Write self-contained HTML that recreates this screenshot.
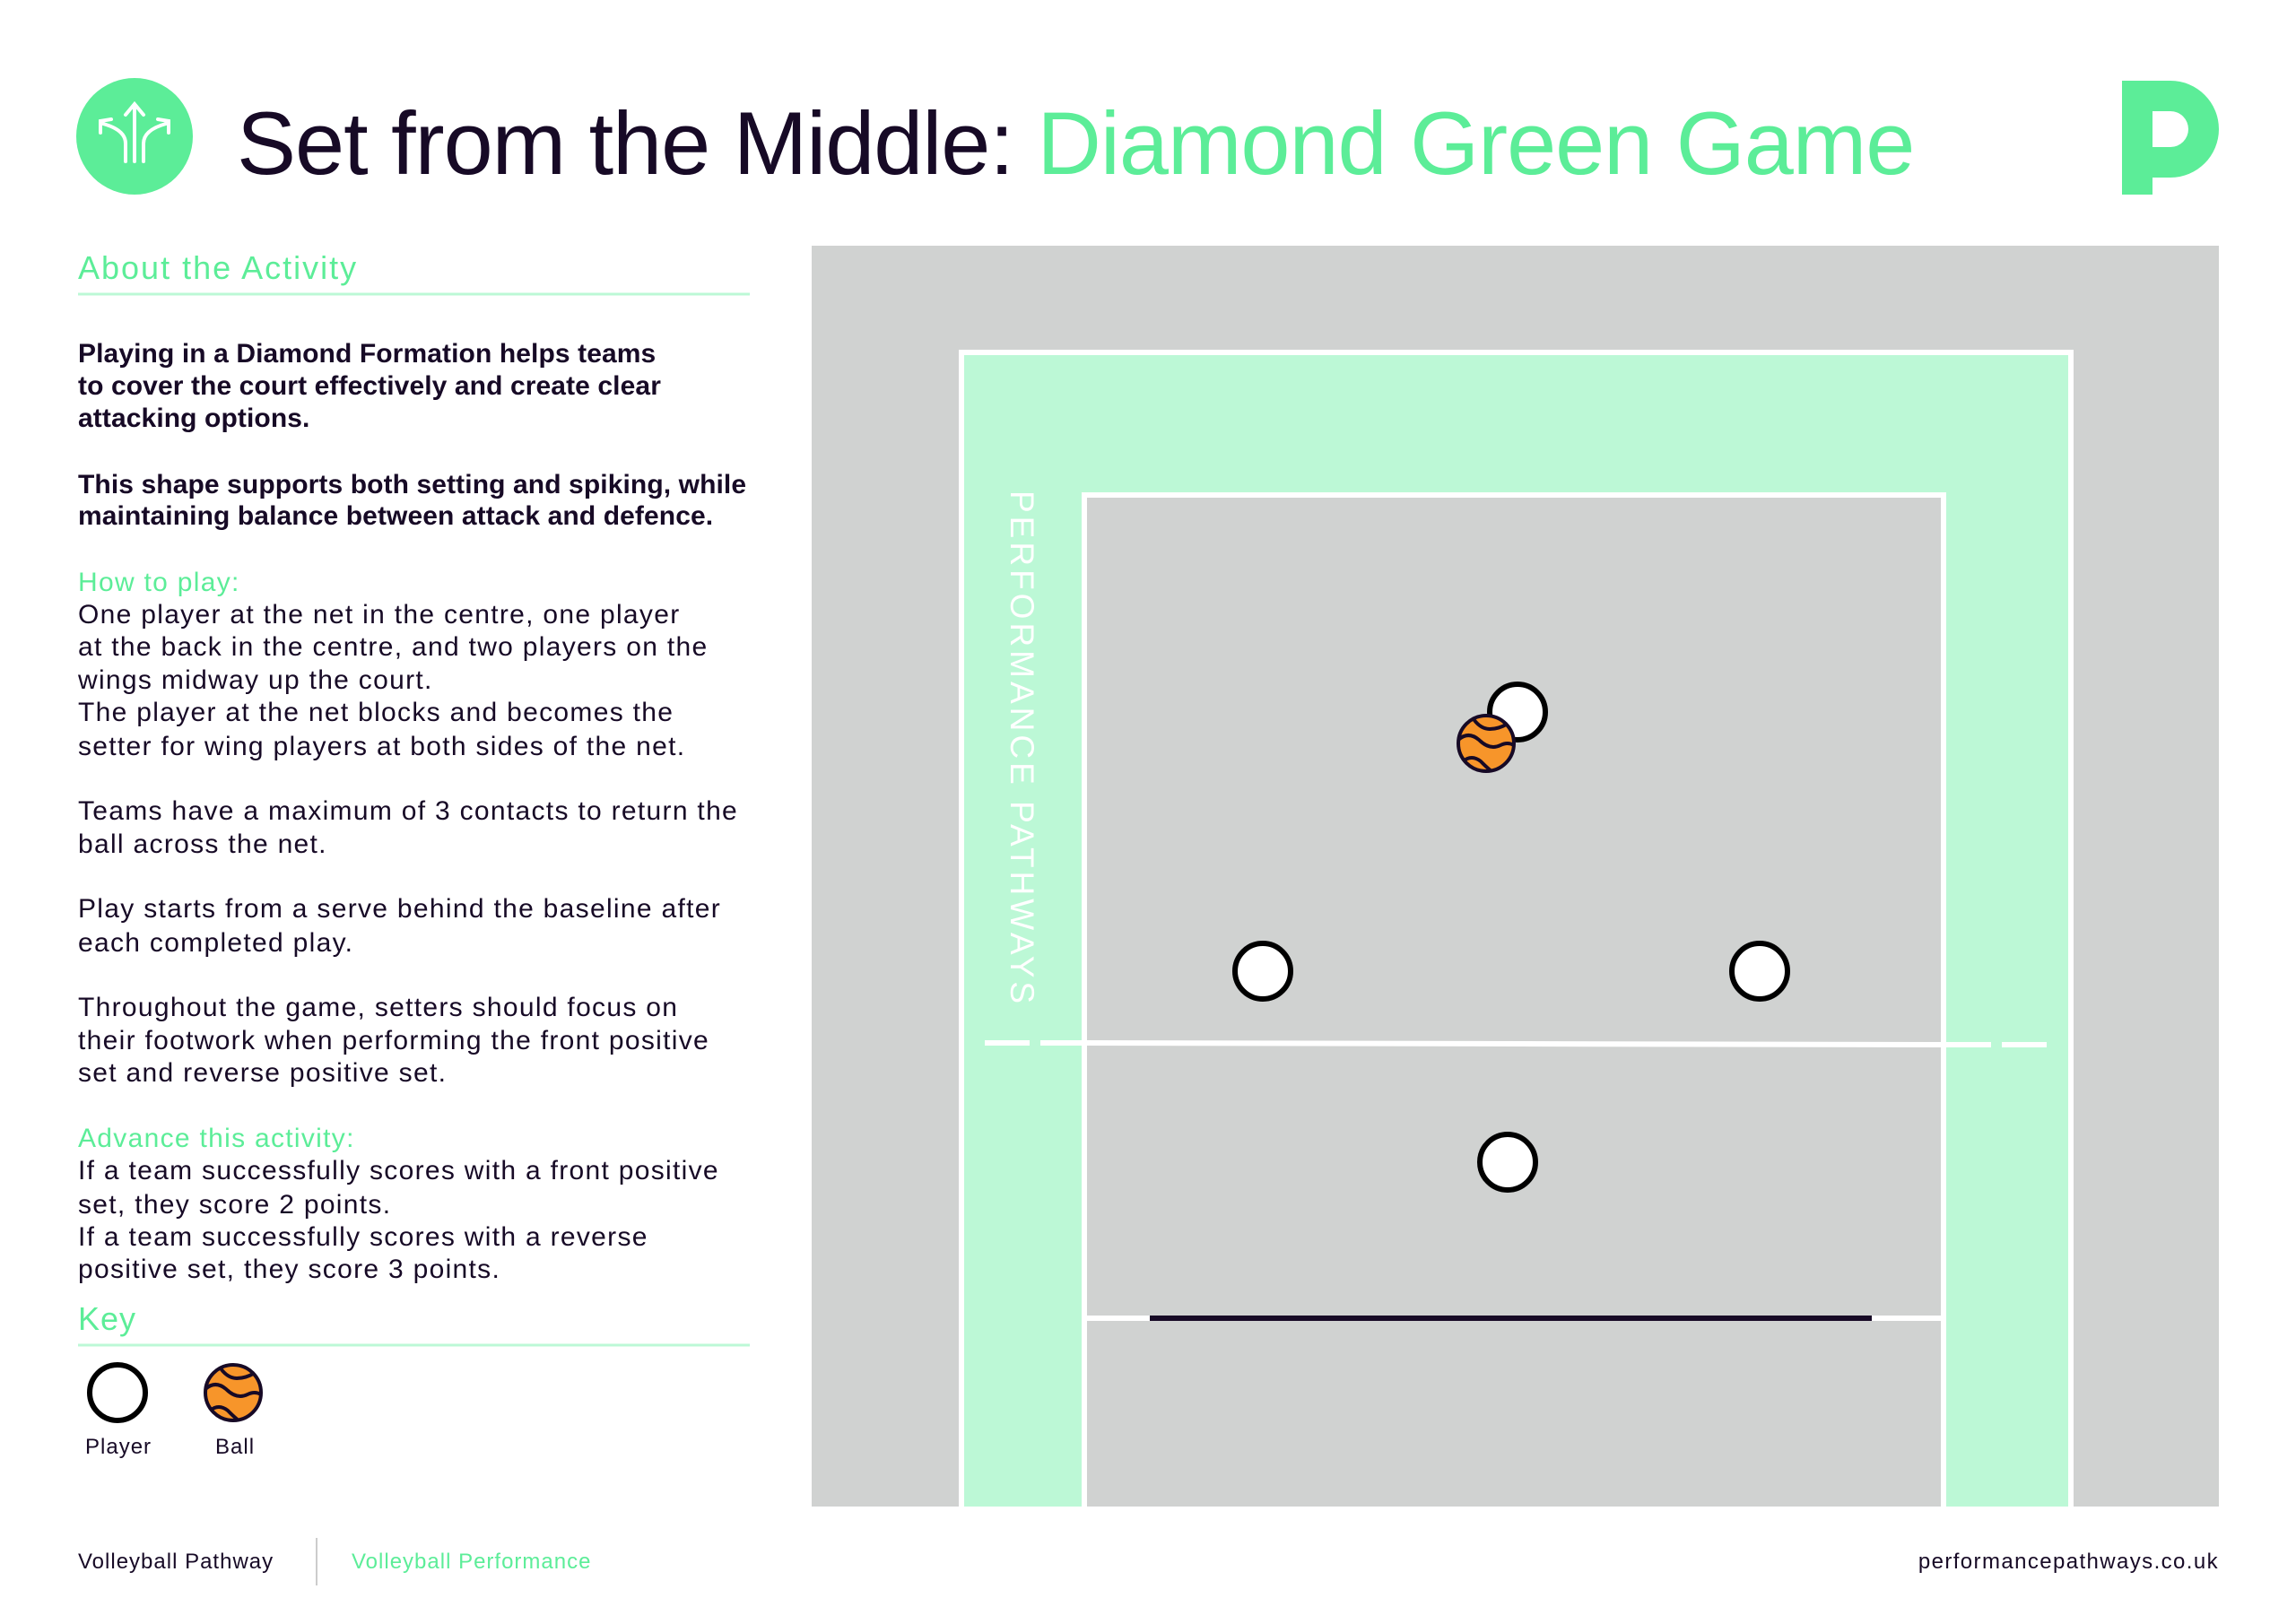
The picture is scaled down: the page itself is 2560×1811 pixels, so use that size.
<!DOCTYPE html>
<html><head><meta charset="utf-8"><style>
body{margin:0;width:2560px;height:1811px;background:#fff;position:relative;overflow:hidden;font-family:"Liberation Sans",sans-serif;color:#170a26}
.a{position:absolute;white-space:nowrap}
.t{font-size:30px;line-height:36px;left:87px;letter-spacing:1.3px}
.b{font-weight:bold;letter-spacing:0.1px}
.g{color:#5ced98}
</style></head><body>
<svg class="a" style="left:0;top:0" width="2560" height="1811">
<circle cx="150" cy="152" r="65" fill="#5ced98"/>
<g stroke="#fff" stroke-width="4" fill="none" stroke-linecap="round">
<path d="M150 180 V118 M140 128 L150 116 L160 128"/>
<path d="M140 180 V160 Q140 145 115 138 M112 148 L112 135 L124 133"/>
<path d="M160 180 V160 Q160 145 185 138 M188 148 L188 135 L176 133"/>
</g>
<path d="M2366 90 H2420 A54 54 0 0 1 2420 198 H2400 V217 H2366 Z M2400 124 V164 H2420 A20 20 0 0 0 2420 124 Z" fill="#5ced98" fill-rule="evenodd"/>
<rect x="905" y="274" width="1569" height="1406" fill="#d0d2d1"/>
<path d="M1072 1680 V393 H2309 V1680" fill="#bcf8d6" stroke="#fff" stroke-width="6"/>
<path d="M1209 1680 V552 H2167 V1680" fill="#d0d2d1" stroke="#fff" stroke-width="6"/>
<line x1="1209" y1="1163" x2="2167" y2="1165" stroke="#fff" stroke-width="6"/>
<line x1="1098" y1="1163" x2="1148" y2="1163" stroke="#fff" stroke-width="6"/>
<line x1="1160" y1="1163" x2="1209" y2="1163" stroke="#fff" stroke-width="6"/>
<line x1="2167" y1="1165" x2="2220" y2="1165" stroke="#fff" stroke-width="6"/>
<line x1="2232" y1="1165" x2="2282" y2="1165" stroke="#fff" stroke-width="6"/>
<line x1="1209" y1="1470" x2="2167" y2="1470" stroke="#fff" stroke-width="6"/>
<line x1="1282" y1="1470" x2="2087" y2="1470" stroke="#170a26" stroke-width="6"/>
<g fill="#fff" stroke="#000" stroke-width="6">
<circle cx="1692" cy="794" r="31"/>
<circle cx="1408" cy="1083" r="31"/>
<circle cx="1962" cy="1083" r="31"/>
<circle cx="1681" cy="1296" r="31"/>
<circle cx="131" cy="1553" r="31"/>
</g>
<g transform="translate(1657,829)">
<circle r="31" fill="#f7952a" stroke="#170a26" stroke-width="4"/>
<g fill="none" stroke="#170a26" stroke-width="4">
<path d="M-14 -27 Q-6 -16 4 -16 Q14 -16 24 -22"/>
<path d="M-31 -4 Q-20 -14 -8 -4 Q4 8 16 2 Q24 -2 31 2"/>
<path d="M-26 20 Q-16 12 -6 20 Q2 28 6 31"/>
</g></g>
<g transform="translate(260,1553)">
<circle r="31" fill="#f7952a" stroke="#170a26" stroke-width="4"/>
<g fill="none" stroke="#170a26" stroke-width="4">
<path d="M-14 -27 Q-6 -16 4 -16 Q14 -16 24 -22"/>
<path d="M-31 -4 Q-20 -14 -8 -4 Q4 8 16 2 Q24 -2 31 2"/>
<path d="M-26 20 Q-16 12 -6 20 Q2 28 6 31"/>
</g></g>
<text x="0" y="0" transform="translate(1127,547) rotate(90)" font-family="Liberation Sans" font-size="37" fill="#fff" letter-spacing="4">PERFORMANCE PATHWAYS</text>
<line x1="87" y1="328" x2="836" y2="328" stroke="#bcf8d6" stroke-width="3"/>
<line x1="87" y1="1500" x2="836" y2="1500" stroke="#bcf8d6" stroke-width="3"/>
<line x1="353" y1="1715" x2="353" y2="1768" stroke="#ccc" stroke-width="2"/>
</svg>
<div class="a" style="left:264px;top:100px;font-size:99px;line-height:120px;letter-spacing:-1px">Set from the Middle: <span class="g">Diamond Green Game</span></div>
<div class="a g" style="left:87px;top:279px;font-size:36px;line-height:40px;letter-spacing:2px">About the Activity</div>
<div class="a t b" style="top:377px">Playing in a Diamond Formation helps teams</div>
<div class="a t b" style="top:413px">to cover the court effectively and create clear</div>
<div class="a t b" style="top:449px">attacking options.</div>
<div class="a t b" style="top:523px">This shape supports both setting and spiking, while</div>
<div class="a t b" style="top:558px">maintaining balance between attack and defence.</div>
<div class="a t g" style="top:632px">How to play:</div>
<div class="a t" style="top:668px">One player at the net in the centre, one player</div>
<div class="a t" style="top:704px">at the back in the centre, and two players on the</div>
<div class="a t" style="top:741px">wings midway up the court.</div>
<div class="a t" style="top:777px">The player at the net blocks and becomes the</div>
<div class="a t" style="top:815px">setter for wing players at both sides of the net.</div>
<div class="a t" style="top:887px">Teams have a maximum of 3 contacts to return the</div>
<div class="a t" style="top:924px">ball across the net.</div>
<div class="a t" style="top:996px">Play starts from a serve behind the baseline after</div>
<div class="a t" style="top:1034px">each completed play.</div>
<div class="a t" style="top:1106px">Throughout the game, setters should focus on</div>
<div class="a t" style="top:1143px">their footwork when performing the front positive</div>
<div class="a t" style="top:1179px">set and reverse positive set.</div>
<div class="a t g" style="top:1252px">Advance this activity:</div>
<div class="a t" style="top:1288px">If a team successfully scores with a front positive</div>
<div class="a t" style="top:1326px">set, they score 2 points.</div>
<div class="a t" style="top:1362px">If a team successfully scores with a reverse</div>
<div class="a t" style="top:1398px">positive set, they score 3 points.</div>
<div class="a g" style="left:87px;top:1451px;font-size:36px;line-height:40px;letter-spacing:1px">Key</div>
<div class="a" style="left:95px;top:1600px;font-size:24px;line-height:28px;letter-spacing:1px">Player</div>
<div class="a" style="left:240px;top:1600px;font-size:24px;line-height:28px;letter-spacing:1px">Ball</div>
<div class="a" style="left:87px;top:1728px;font-size:24px;line-height:28px;letter-spacing:1px">Volleyball Pathway</div>
<div class="a g" style="left:392px;top:1728px;font-size:24px;line-height:28px;letter-spacing:1px">Volleyball Performance</div>
<div class="a" style="right:86px;top:1728px;font-size:24px;line-height:28px;letter-spacing:1.4px">performancepathways.co.uk</div>
</body></html>
